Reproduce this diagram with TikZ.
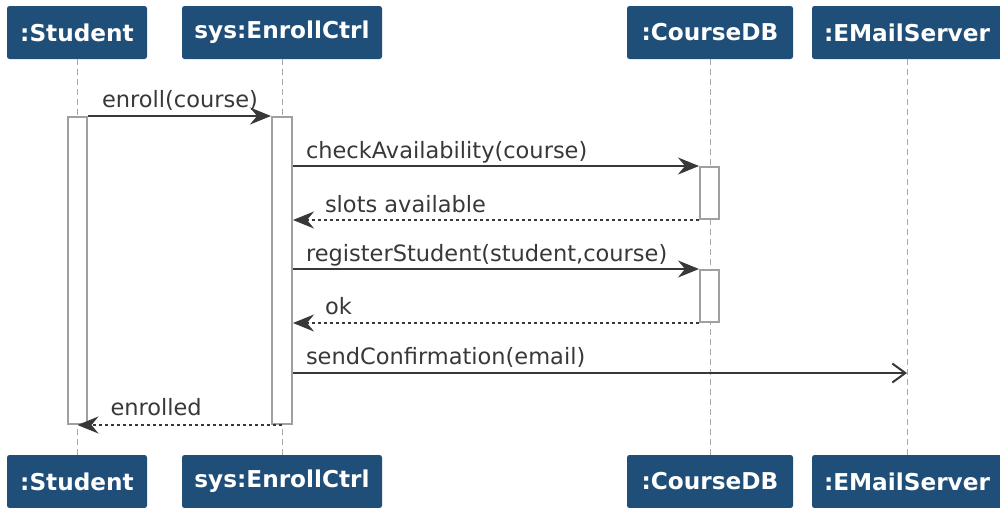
\documentclass[tikz,border=0pt]{standalone}
\usepackage{fontspec}
\setmainfont{DejaVu Sans}
\usetikzlibrary{arrows.meta,positioning,calc}
\definecolor{partblue}{HTML}{1F4E79}
\definecolor{msggray}{HTML}{383838}
\definecolor{actgray}{HTML}{A0A0A0}
\definecolor{lifegray}{HTML}{A8A8A8}
\tikzset{
  part/.style={rectangle, rounded corners=2.5pt, fill=partblue, text=white, font=\bfseries\fontsize{23.2}{27}\selectfont, minimum height=53pt, inner sep=0pt},
  act/.style={draw=actgray, line width=2pt, fill=white, rectangle, inner sep=0pt, minimum width=19pt},
  life/.style={draw=lifegray, line width=1pt, dash pattern=on 6pt off 4pt},
  msg/.style={draw=msggray, line width=2pt, -{Stealth[length=21pt, width=17pt, inset=7pt]}},
  ret/.style={msg, dash pattern=on 3pt off 3pt},
  async/.style={draw=msggray, line width=2pt, -{Straight Barb[length=13pt, width=19pt, line width=2pt]}},
  lbl/.style={font=\fontsize{22.5}{27}\selectfont, text=msggray, inner sep=0pt},
}
\begin{document}
\begin{tikzpicture}[x=1pt, y=-1pt]
\useasboundingbox (0,0) rectangle (1000,507);
\node[part, minimum width=140pt] (stu) at (77,32.5) {:Student};
\node[part, minimum width=200pt] (ctl) at (282,32.5) {sys:EnrollCtrl};
\node[part, minimum width=166pt] (cdb) at (710,32.5) {:CourseDB};
\node[part, minimum width=190pt] (mail) at (907,32.5) {:EMailServer};
\node[part, minimum width=140pt] (stuB) at (77,481.5) {:Student};
\node[part, minimum width=200pt] (ctlB) at (282,481.5) {sys:EnrollCtrl};
\node[part, minimum width=166pt] (cdbB) at (710,481.5) {:CourseDB};
\node[part, minimum width=190pt] (mailB) at (907,481.5) {:EMailServer};
\draw[life] (stu) -- (stuB);
\draw[life] (ctl) -- (ctlB);
\draw[life] (cdb) -- (cdbB);
\draw[life] (mail) -- (mailB);
\node[act, minimum height=307pt] (actS) at (77.5,270.5) {};
\node[act, minimum width=20pt, minimum height=307pt] (actE) at (282,270.5) {};
\node[act, minimum height=52pt] (actD1) at (709.5,193) {};
\node[act, minimum height=52pt] (actD2) at (709.5,296) {};
\coordinate (mailIn) at (907,373);
\draw[msg] (actS.north east) -- (actE.north west)
  node[lbl, at start, anchor=base west, xshift=13pt, yshift=9pt] {enroll(course)};
\draw[msg] (actE.east |- actD1.north) -- (actD1.north west)
  node[lbl, at start, anchor=base west, xshift=12pt, yshift=8pt] {checkAvailability(course)};
\draw[ret] (actD1.south west) -- (actE.east |- actD1.south)
  node[lbl, at end, anchor=base west, xshift=31pt, yshift=8pt] {slots available};
\draw[msg] (actE.east |- actD2.north) -- (actD2.north west)
  node[lbl, at start, anchor=base west, xshift=12pt, yshift=8pt] {registerStudent(student,course)};
\draw[ret] (actD2.south west) -- (actE.east |- actD2.south)
  node[lbl, at end, anchor=base west, xshift=31pt, yshift=9pt] {ok};
\draw[async] (actE.east |- mailIn) -- (mailIn)
  node[lbl, at start, anchor=base west, xshift=12pt, yshift=9pt] {sendConfirmation(email)};
\draw[ret] (actE.south) -- (actS.south)
  node[lbl, at end, anchor=base west, xshift=32pt, yshift=10pt] {enrolled};
\end{tikzpicture}
\end{document}
